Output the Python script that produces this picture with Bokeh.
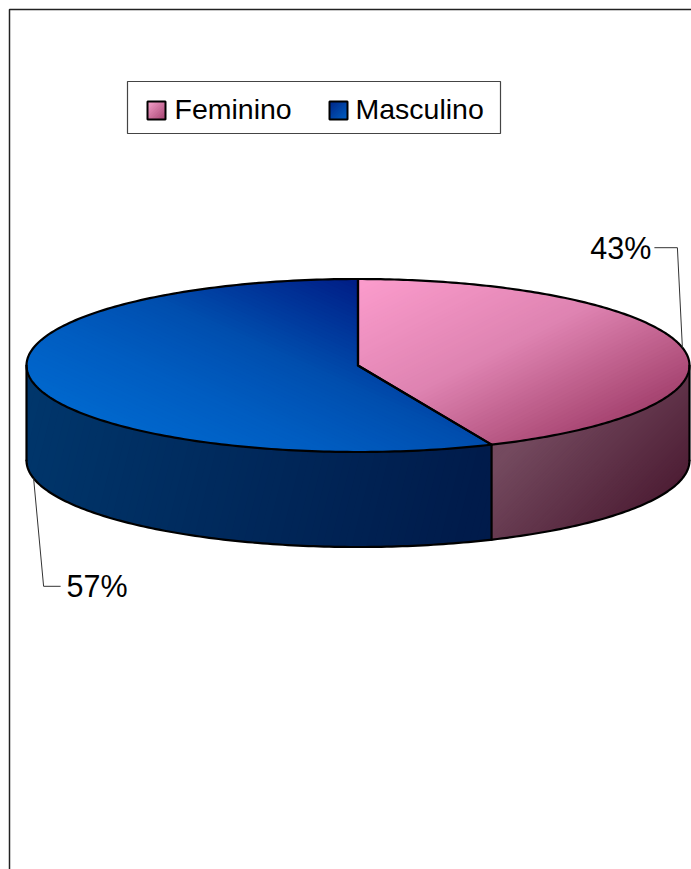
import numpy as np
from bokeh.plotting import figure
from bokeh.models import Range1d
from bokeh.core.properties import value
from bokeh.embed import file_html
from bokeh.resources import INLINE

# ---------------- data ----------------
categories = ["Feminino", "Masculino"]
shares = [43.4, 56.6]
labels = [f"{round(s)}%" for s in shares]

# ---------------- layout / style ----------------
W, H = 691, 869
CX, CY, A, B, D = 357.5, 365.0, 331.5, 86.5, 95.0
FONT = value("Liberation Sans")
LEG_FS = "28.5px"
LAB_FS = "30.5px"
TXT_SHIFT = -10.0   # compensates the svg baseline offset

# gradient definitions: (weight_x, weight_y, [(s, color), ...])
top_grad = [
    (1.0, 2.0, [(930, "#FA9BCB"), (1200, "#DE83B1"), (1460, "#A5436F")]),
    (0.45, -1.0, [(-380, "#0068CE"), (-300, "#005CC0"), (-230, "#004EAE"), (-120, "#001E86")]),
]
side_grad = [
    (1.0, 1.0, [(960, "#744A5F"), (1160, "#4E1E35")]),
    (1.0, 0.25, [(130, "#00366B"), (600, "#001B4B")]),
]
swatch_grad = [
    [(0.0, "#F7A3CC"), (1.0, "#A3416F")],
    [(0.0, "#002585"), (1.0, "#0060C4")],
]


def hex2rgb(h):
    h = h.lstrip("#")
    return np.array([int(h[i:i + 2], 16) for i in (0, 2, 4)], dtype=float)


def interp(stops, s):
    ss = [a for a, _ in stops]
    cs = [hex2rgb(c) for _, c in stops]
    if s <= ss[0]:
        c = cs[0]
    elif s >= ss[-1]:
        c = cs[-1]
    else:
        for k in range(len(ss) - 1):
            if ss[k] <= s <= ss[k + 1]:
                t = (s - ss[k]) / (ss[k + 1] - ss[k])
                c = cs[k] * (1 - t) + cs[k + 1] * t
                break
    return "#%02x%02x%02x" % tuple(int(round(v)) for v in c)


def rim(theta, r=1.0, dy=0.0):
    return CX + A * r * np.sin(theta), CY - B * r * np.cos(theta) + dy


def clip_half(poly, wx, wy, s0):
    """keep the part of poly where wx*x + wy*y >= s0"""
    out = []
    n = len(poly)
    for i in range(n):
        P, Q = poly[i], poly[(i + 1) % n]
        fp = wx * P[0] + wy * P[1] - s0
        fq = wx * Q[0] + wy * Q[1] - s0
        if fp >= 0:
            out.append(P)
        if (fp >= 0) != (fq >= 0):
            t = fp / (fp - fq)
            out.append((P[0] + t * (Q[0] - P[0]), P[1] + t * (Q[1] - P[1])))
    return out


def gradient_fill(poly, wx, wy, stops, n=70):
    s_vals = [wx * x + wy * y for x, y in poly]
    s_min, s_max = min(s_vals), max(s_vals)
    xs, ys, cs = [], [], []
    for k in range(n):
        s0 = s_min + (s_max - s_min) * k / n
        part = poly if k == 0 else clip_half(poly, wx, wy, s0)
        if len(part) < 3:
            continue
        xs.append([q[0] for q in part])
        ys.append([q[1] for q in part])
        cs.append(interp(stops, s0 + (s_max - s_min) / n / 2))
    p.patches(xs, ys, fill_color=cs, line_color=None)


p = figure(width=W, height=H, x_range=Range1d(0, W), y_range=Range1d(H, 0),
           output_backend="svg", toolbar_location=None, min_border=0)
p.axis.visible = False
p.grid.visible = False
p.outline_line_color = None
p.background_fill_color = "white"
p.border_fill_color = "white"

total = float(sum(shares))
bounds = np.concatenate([[0.0], np.cumsum(shares) / total]) * 2 * np.pi

# ---------------- side walls ----------------
for i in range(len(shares)):
    lo = max(bounds[i], np.pi / 2)
    hi = min(bounds[i + 1], 3 * np.pi / 2)
    if lo >= hi:
        continue
    th = np.linspace(lo, hi, 120)
    tx, ty = rim(th)
    poly = list(zip(tx, ty)) + list(zip(tx[::-1], ty[::-1] + D))
    wx, wy, stops = side_grad[i]
    gradient_fill(poly, wx, wy, stops)

# ---------------- top faces ----------------
for i in range(len(shares)):
    th = np.linspace(bounds[i], bounds[i + 1], 240)
    tx, ty = rim(th)
    poly = [(CX, CY)] + list(zip(tx, ty))
    wx, wy, stops = top_grad[i]
    gradient_fill(poly, wx, wy, stops)

# ---------------- outlines ----------------
ol = dict(line_color="black", line_width=2.2, line_join="round", line_cap="round")
for i in range(len(shares)):
    th = np.linspace(bounds[i], bounds[i + 1], 200)
    ax, ay = rim(th)
    p.line([CX] + list(ax) + [CX], [CY] + list(ay) + [CY], **ol)
thf = np.linspace(np.pi / 2, 3 * np.pi / 2, 200)
bx, by = rim(thf, dy=D)
p.line(list(bx), list(by), **ol)
edge_angles = [np.pi / 2, 3 * np.pi / 2] + [b for b in bounds[1:-1] if np.pi / 2 < b < 3 * np.pi / 2]
for e in edge_angles:
    ex, ey = rim(e)
    p.line([ex, ex], [ey, ey + D], **ol)

# ---------------- data labels with leaders ----------------
elbow_offset = [(-5, -100), (10, 108)]
arm = [-23, 17]
for i in range(len(shares)):
    m = (bounds[i] + bounds[i + 1]) / 2
    front = np.cos(m) < 0
    axp, ayp = rim(m, dy=D if front else 0.0)
    ex, ey = axp + elbow_offset[i][0], ayp + elbow_offset[i][1]
    tx = ex + arm[i]
    p.line([axp, ex, tx], [ayp, ey, ey], line_color="#333333", line_width=1)
    align = "right" if arm[i] < 0 else "left"
    gap = -3 if arm[i] < 0 else 6
    p.text(x=[tx + gap], y=[ey + 10 + TXT_SHIFT], text=[labels[i]], text_font=FONT,
           text_font_size=LAB_FS, text_align=align, text_baseline="alphabetic",
           text_color="black")

# ---------------- legend ----------------
p.quad(left=[127], right=[500], top=[81], bottom=[133], fill_color="white",
       line_color="#444444", line_width=1.2)
sw_x = [147, 329]
txt_x = [174, 355]
SW = 18
for i in range(len(categories)):
    sq = [(sw_x[i], 101), (sw_x[i] + SW, 101), (sw_x[i] + SW, 101 + SW), (sw_x[i], 101 + SW)]
    st = [(sw_x[i] + 101, swatch_grad[i][0][1]), (sw_x[i] + SW + 101 + SW, swatch_grad[i][1][1])]
    gradient_fill(sq, 1.0, 1.0, st, n=12)
    p.quad(left=[sw_x[i]], right=[sw_x[i] + SW], top=[101], bottom=[101 + SW],
           fill_color=None, line_color="black", line_width=2)
    p.text(x=[txt_x[i]], y=[118.5 + TXT_SHIFT], text=[categories[i]], text_font=FONT,
           text_font_size=LEG_FS, text_align="left", text_baseline="alphabetic",
           text_color="black")

# ---------------- chart-area border (top and left edges visible) ----------------
p.line([W, 9, 9], [9, 9, H], line_color="#222222", line_width=1.5)

open("out.html", "w").write(file_html(p, INLINE))
